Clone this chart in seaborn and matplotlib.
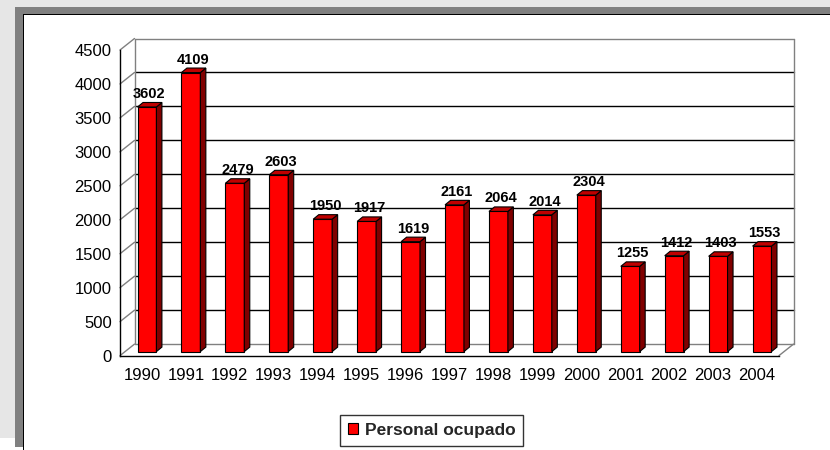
import matplotlib
matplotlib.use('Agg')
import matplotlib.pyplot as plt
import seaborn as sns
import pandas as pd
from matplotlib.patches import Rectangle, Polygon, Patch

# ---- data ----
years = ['1990', '1991', '1992', '1993', '1994', '1995', '1996', '1997',
         '1998', '1999', '2000', '2001', '2002', '2003', '2004']
personal = [3602, 4109, 2479, 2603, 1950, 1917, 1619, 2161,
            2064, 2014, 2304, 1255, 1412, 1403, 1553]
series_name = 'Personal ocupado'
y_ticks = [0, 500, 1000, 1500, 2000, 2500, 3000, 3500, 4000, 4500]

sns.set_style('white')
plt.rcParams['font.family'] = ['Liberation Sans', 'DejaVu Sans']

W, H = 830, 450
fig = plt.figure(figsize=(8.3, 4.5), dpi=100)
fig.patch.set_facecolor('white')


def frect(x0, y0, x1, y1, color):
    fig.add_artist(Rectangle((x0 / W, 1 - y1 / H), (x1 - x0) / W, (y1 - y0) / H,
                             transform=fig.transFigure, facecolor=color,
                             edgecolor='none', zorder=0))


# outer frame (light gray band, dark gray band, black edge)
frect(0, 0, 830, 7, '#e6e6e6')
frect(0, 0, 15, 438, '#e6e6e6')
frect(15, 7, 830, 14, '#808080')
frect(15, 7, 23, 447, '#808080')
frect(23, 14, 830, 15, '#000000')
frect(23, 14, 24, 450, '#000000')

# axes (front plane)
AX_L, AX_R, AX_T, AX_B = 120, 779, 50, 355.6
ax = fig.add_axes([AX_L / W, 1 - AX_B / H, (AX_R - AX_L) / W, (AX_B - AX_T) / H])
ax.patch.set_alpha(0)

df = pd.DataFrame({'Year': years, 'Personal': personal})
sns.barplot(data=df, x='Year', y='Personal', color='#FF0000', saturation=1,
            width=0.43, edgecolor='black', linewidth=0.8, ax=ax, zorder=3)
bars = list(ax.patches)

ax.set_xlim(-0.5, 14.5)
ax.set_ylim(0, 4500)

px_x = (AX_R - AX_L) / 15.0
px_y = (AX_B - AX_T) / 4500.0
DX, DY = 14.5 / px_x, 11.5 / px_y      # wall depth
bdx, bdy = 5.5 / px_x, 4.5 / px_y      # bar depth
sx, sy = 5.0 / px_x, 4.0 / px_y        # bar placement inside depth

# back wall and side wall
x0w, x1w = -0.5, 14.5
for v in y_ticks:
    col = '#808080' if v in (0, 4500) else 'black'
    ax.plot([x0w + DX, x1w + DX], [v + DY, v + DY], color=col, lw=1.0,
            zorder=1, clip_on=False)
    ax.plot([x0w, x0w + DX], [v, v + DY], color='#808080', lw=1.0,
            zorder=1, clip_on=False)
ax.plot([x0w + DX, x0w + DX], [DY, 4500 + DY], color='#808080', lw=1.0,
        zorder=1, clip_on=False)
ax.plot([x1w + DX, x1w + DX], [DY, 4500 + DY], color='#808080', lw=1.0,
        zorder=1, clip_on=False)
ax.plot([x1w, x1w + DX], [0, DY], color='#808080', lw=1.0,
        zorder=1, clip_on=False)

# 3D bars
for p, v in zip(bars, personal):
    p.set_x(p.get_x() + sx)
    p.set_y(p.get_y() + sy)
    xa = p.get_x()
    xb = xa + p.get_width()
    ya = p.get_y()
    yb = ya + p.get_height()
    side = Polygon([(xb, ya), (xb + bdx, ya + bdy), (xb + bdx, yb + bdy), (xb, yb)],
                   closed=True, facecolor='#800000', edgecolor='black',
                   linewidth=0.8, zorder=3, clip_on=False)
    top = Polygon([(xa, yb), (xa + bdx, yb + bdy), (xb + bdx, yb + bdy), (xb, yb)],
                  closed=True, facecolor='#C00000', edgecolor='black',
                  linewidth=0.8, zorder=3, clip_on=False)
    ax.add_patch(side)
    ax.add_patch(top)
    ax.annotate(f'{v}', (xa + p.get_width() / 2, yb), xytext=(2.5, 9),
                textcoords='offset pixels', ha='center', va='baseline',
                fontsize=10.5, fontweight='bold', color='black', zorder=5,
                annotation_clip=False)

# spines and ticks
for s in ('top', 'right'):
    ax.spines[s].set_visible(False)
for s in ('left', 'bottom'):
    ax.spines[s].set_color('black')
    ax.spines[s].set_linewidth(1.0)
    ax.spines[s].set_zorder(4)

ax.set_yticks(y_ticks)
ax.set_yticklabels([str(v) for v in y_ticks])
ax.tick_params(axis='y', length=5, width=0.8, pad=1, labelsize=12, colors='black')
ax.set_xticks(range(len(years)))
ax.set_xticklabels(years)
ax.set_xticks([i - 0.5 for i in range(len(years) + 1)], minor=True)
ax.tick_params(axis='x', which='major', length=0, pad=9, labelsize=12, colors='black')
ax.tick_params(axis='x', which='minor', length=5, width=0.8, colors='black')
ax.set_xlabel('')
ax.set_ylabel('')
ax.grid(False)

# legend
leg = fig.legend(handles=[Patch(facecolor='#FF0000', edgecolor='black',
                                linewidth=0.8, label=series_name)],
                 loc='center', bbox_to_anchor=(431.5 / W, 1 - 430.5 / H),
                 frameon=True, fancybox=False, edgecolor='black',
                 prop={'weight': 'bold', 'size': 12.5},
                 handlelength=0.6, handleheight=0.6, handletextpad=0.4,
                 borderpad=0.45, borderaxespad=0)
leg.get_frame().set_linewidth(1.0)

fig.savefig('out.png', dpi=100)
